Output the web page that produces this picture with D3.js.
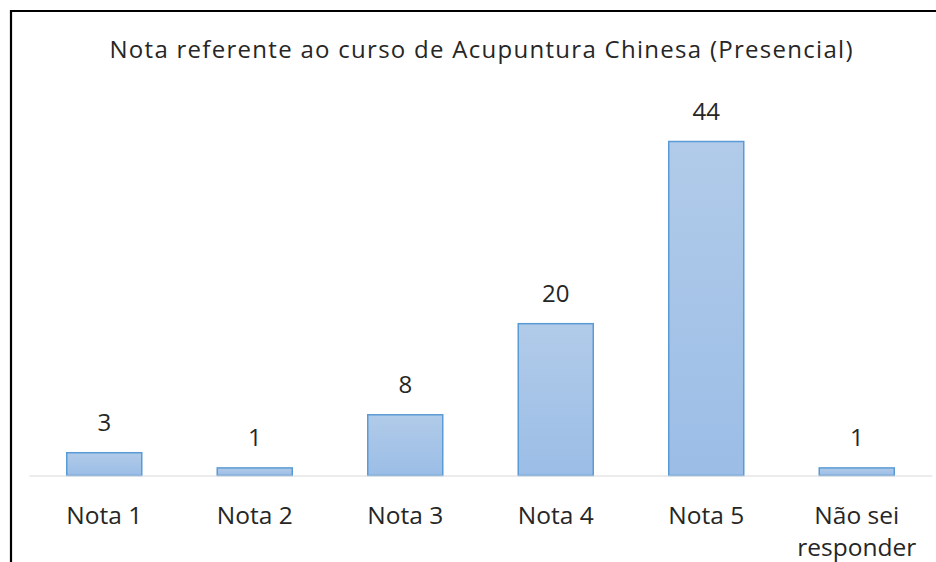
<!DOCTYPE html>
<html>
<head>
<meta charset="utf-8">
<script src="https://cdn.jsdelivr.net/npm/d3@7"></script>
<style>
  html, body { margin: 0; padding: 0; background: #fff; }
  svg { display: block; }
  text { font-family: "Open Sans", "Noto Sans", sans-serif; fill: #262626; }
</style>
</head>
<body>
<svg id="chart" width="936" height="562"></svg>
<script>
const title = "Nota referente ao curso de Acupuntura Chinesa (Presencial)";
const categories = ["Nota 1", "Nota 2", "Nota 3", "Nota 4", "Nota 5", "Não sei responder"];
const values = [3, 1, 8, 20, 44, 1];

const svg = d3.select("#chart");
const W = 936, H = 562;

const defs = svg.append("defs");
const grad = defs.append("linearGradient").attr("id", "barGrad")
  .attr("x1", 0).attr("y1", 0).attr("x2", 0).attr("y2", 1);
grad.append("stop").attr("offset", "0%").attr("stop-color", "#b1cbe9");
grad.append("stop").attr("offset", "100%").attr("stop-color", "#9bbde6");

// frame
svg.append("path")
  .attr("d", `M11,${H} L11,11 L${W},11`)
  .attr("fill", "none").attr("stroke", "#000").attr("stroke-width", 2.2);

const plotLeft = 29, plotRight = 932, baseY = 475, maxY = 141;

const x = d3.scaleBand().domain(categories).range([plotLeft, plotRight])
  .paddingInner(0.495).paddingOuter(0.2475);
const y = d3.scaleLinear().domain([0, 44]).range([baseY, maxY]);

// title, stretched with letter spacing to the reference width
const tt = svg.append("text").attr("x", 481).attr("y", 58)
  .attr("text-anchor", "middle").attr("font-size", 24)
  .text(title);
const w0 = tt.node().getComputedTextLength();
const ls = Math.max(0, Math.min(2, (743 - w0) / (title.length - 1)));
tt.attr("letter-spacing", ls).attr("x", 481 + ls / 2);

// bars
svg.append("g").selectAll("rect").data(values).join("rect")
  .attr("x", (d, i) => x(categories[i]) + 0.5)
  .attr("y", d => y(d) + 0.5)
  .attr("width", x.bandwidth() - 1)
  .attr("height", d => baseY - y(d))
  .attr("fill", "url(#barGrad)")
  .attr("stroke", "#5b9bd5").attr("stroke-width", 1.5);

// axis
const axis = d3.axisBottom(x).tickSize(0).tickFormat("");
const gAxis = svg.append("g").attr("transform", `translate(0,${baseY + 0.5})`).call(axis);
gAxis.select(".domain").attr("stroke", "#d9d9d9").attr("stroke-width", 1.2);

// category labels (each line its own text element)
const lines = [];
categories.forEach(c => {
  const parts = c === "Não sei responder" ? ["Não sei", "responder"] : [c];
  parts.forEach((p, k) => lines.push({ cat: c, text: p, k }));
});
svg.append("g").selectAll("text").data(lines).join("text")
  .attr("x", d => x(d.cat) + x.bandwidth() / 2)
  .attr("y", d => 524 + d.k * 32)
  .attr("text-anchor", "middle").attr("font-size", 24.5)
  .text(d => d.text);

// value labels
svg.append("g").selectAll("text").data(values).join("text")
  .attr("x", (d, i) => x(categories[i]) + x.bandwidth() / 2)
  .attr("y", d => y(d) - 21)
  .attr("text-anchor", "middle").attr("font-size", 24)
  .text(d => d);
</script>
</body>
</html>
